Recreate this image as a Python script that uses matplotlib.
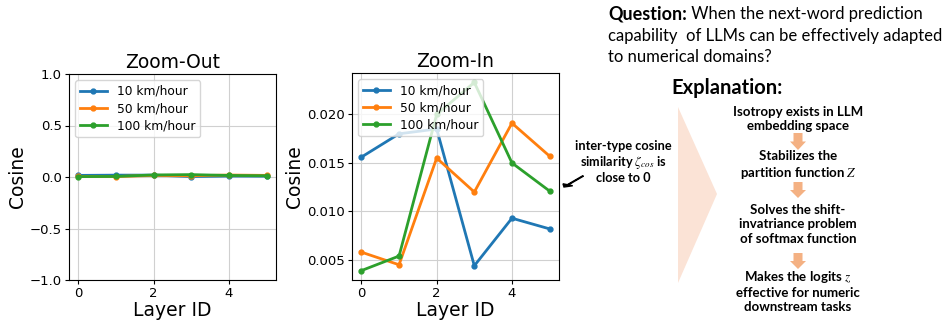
import matplotlib
matplotlib.use("Agg")
import matplotlib.pyplot as plt
from matplotlib.patches import Polygon, FancyArrow

layers = [0, 1, 2, 3, 4, 5]
series_labels = ["10 km/hour", "50 km/hour", "100 km/hour"]
cos_10 = [0.0156, 0.0180, 0.0185, 0.0044, 0.0093, 0.0082]
cos_50 = [0.0058, 0.0045, 0.0155, 0.0120, 0.0191, 0.0157]
cos_100 = [0.0039, 0.0054, 0.0200, 0.0233, 0.0150, 0.0121]
colors = ["#1f77b4", "#ff7f0e", "#2ca02c"]

question_bold = "Question:"
question_rest = [" When the next-word prediction", "capability  of LLMs can be effectively adapted", "to numerical domains?"]
explanation_items = [
    "Isotropy exists in LLM\nembedding space",
    "Stabilizes the\npartition function $Z$",
    "Solves the shift-\ninvatriance problem\nof softmax function",
    "Makes the logits $z$\neffective for numeric\ndownstream tasks",
]
annotation_text = "inter-type cosine\nsimilarity $\\zeta_{cos}$ is\nclose to 0"

plt.rcParams["mathtext.fontset"] = "stix"
RF = "Lato"

W, H = 942, 323
fig = plt.figure(figsize=(W / 100, H / 100), dpi=100)


def fx(px):
    return px / W


def fy(py):
    return 1 - py / H


data = [cos_10, cos_50, cos_100]

ax1 = fig.add_axes([fx(69), fy(280), fx(276) - fx(69), fy(74) - fy(280)])
ax2 = fig.add_axes([fx(352), fy(280), fx(559) - fx(352), fy(73) - fy(280)])

for ax, title in [(ax1, "Zoom-Out"), (ax2, "Zoom-In")]:
    for vals, lab, c in zip(data, series_labels, colors):
        ax.plot(layers, vals, marker="o", markersize=3.5, linewidth=2, color=c, label=lab)
    ax.set_title(title, fontsize=13.5, pad=4)
    ax.set_xlabel("Layer ID", fontsize=13.5, labelpad=1)
    ax.set_ylabel("Cosine", fontsize=13.5, labelpad=2)
    ax.grid(True, color="#d0d0d0", linewidth=0.8)
    ax.tick_params(labelsize=9.5, length=3, pad=2)
    ax.set_xticks([0, 2, 4])
    ax.legend(loc="upper left", fontsize=8.8, handlelength=2.2, borderpad=0.4, labelspacing=0.35)

ax1.set_ylim(-1, 1)
ax1.set_yticks([-1.0, -0.5, 0.0, 0.5, 1.0])
ax2.set_yticks([0.005, 0.010, 0.015, 0.020])

# annotation
fig.text(fx(623), fy(162), annotation_text, ha="center", va="center",
         fontsize=9.2, fontweight="bold", family=RF, linespacing=1.1)
fig.patches.append(FancyArrow(fx(583), fy(176), fx(564) - fx(583), fy(187) - fy(176),
                              width=0.0012, head_width=0.012, head_length=0.008,
                              length_includes_head=True, color="black",
                              transform=fig.transFigure, figure=fig))

# question text
QS = 12
qt = fig.text(fx(608), fy(14), question_bold, ha="left", va="center",
              fontsize=13, fontweight="bold", family=RF)
fig.canvas.draw()
bb = qt.get_window_extent()
fig.text(bb.x1 / W, fy(14), question_rest[0], ha="left", va="center",
         fontsize=QS, family=RF)
fig.text(fx(608), fy(36), question_rest[1], ha="left", va="center",
         fontsize=QS, family=RF)
fig.text(fx(608), fy(57), question_rest[2], ha="left", va="center",
         fontsize=QS, family=RF)

fig.text(fx(727), fy(88), "Explanation:", ha="center", va="center",
         fontsize=14.5, fontweight="bold", family=RF)

# triangle
tri = Polygon([[fx(678), fy(107)], [fx(717), fy(194)], [fx(678), fy(283)]],
              closed=True, facecolor="#FBE3D6", edgecolor="none",
              transform=fig.transFigure)
fig.patches.append(tri)

item_y = [119, 165.5, 224.5, 291]
for txt, y in zip(explanation_items, item_y):
    fig.text(fx(798), fy(y), txt, ha="center", va="center", fontsize=9.5,
             fontweight="bold", family=RF, linespacing=1.22)

arrow_spans = [(133, 150), (182, 198), (253, 269)]
for y0, y1 in arrow_spans:
    fig.patches.append(FancyArrow(fx(798), fy(y0), 0, fy(y1) - fy(y0),
                                  width=fx(9), head_width=fx(16), head_length=(y1 - y0) * 0.5 / H,
                                  length_includes_head=True, facecolor="#F4B183",
                                  edgecolor="none", transform=fig.transFigure, figure=fig))

fig.savefig("out.png", dpi=100)
